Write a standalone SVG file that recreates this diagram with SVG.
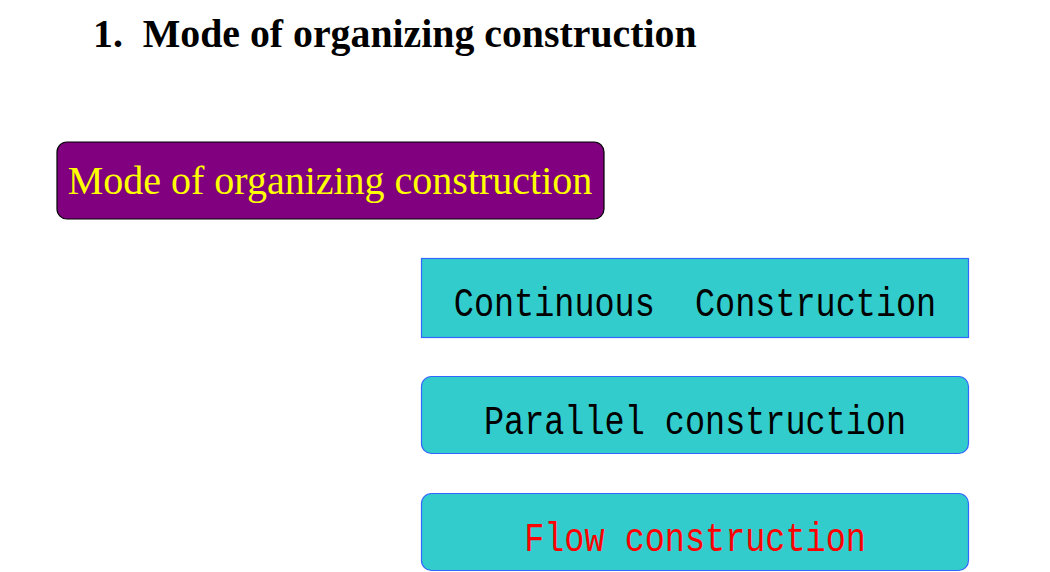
<svg xmlns="http://www.w3.org/2000/svg" width="1050" height="572" viewBox="0 0 1050 572">
<style>
.title{font-family:"Liberation Serif","Times New Roman",serif;font-weight:bold;font-size:39.8px;fill:#000}
.main{font-family:"Liberation Serif","Times New Roman",serif;font-size:40px;fill:#ffff00}
.mono{font-family:"Liberation Mono","Courier New",monospace;font-size:33.5px}
.cyan{fill:#33cccc;stroke:#3366ff;stroke-width:1.2}
</style>
<rect width="1050" height="572" fill="#fff"/>
<text class="title" x="93" y="47" xml:space="preserve">1.  Mode of organizing construction</text>
<g id="node-main">
<rect x="57" y="142" width="547" height="77" rx="10" ry="10" fill="#800080" stroke="#000" stroke-width="1.2"/>
<text class="main" x="330" y="194" text-anchor="middle">Mode of organizing construction</text>
</g>
<g id="node-continuous">
<rect class="cyan" x="421.5" y="258.5" width="547" height="79"/>
<text class="mono" transform="translate(695,315.5) scale(1,1.22)" text-anchor="middle" xml:space="preserve">Continuous  Construction</text>
</g>
<g id="node-parallel">
<rect class="cyan" x="421.5" y="376.5" width="547" height="77" rx="10" ry="10"/>
<text class="mono" transform="translate(695,433.5) scale(1,1.22)" text-anchor="middle">Parallel construction</text>
</g>
<g id="node-flow">
<rect class="cyan" x="421.5" y="493.5" width="547" height="77" rx="10" ry="10"/>
<text class="mono" transform="translate(695,551) scale(1,1.22)" text-anchor="middle" fill="#ff0000">Flow construction</text>
</g>
<g id="connectors"></g>
</svg>
